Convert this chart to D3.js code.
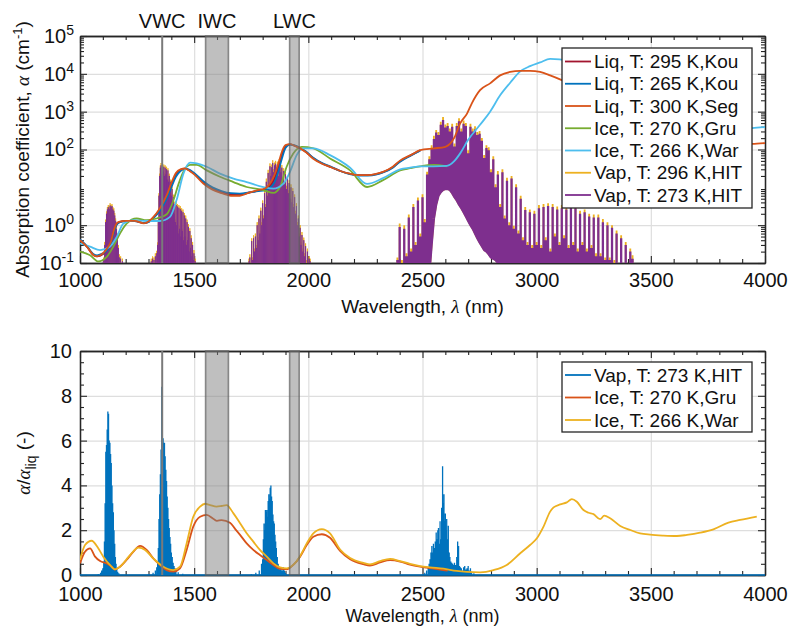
<!DOCTYPE html>
<html><head><meta charset="utf-8">
<script src="https://cdn.jsdelivr.net/npm/d3@7"></script>
<style>
body{margin:0;background:#fff}
svg{display:block;font-family:"Liberation Sans",Arial,Helvetica,sans-serif}
</style></head><body>
<svg id="chart" width="790" height="627"></svg>
<script>
// ---------------- DATA ----------------
const xTicks = [1000,1500,2000,2500,3000,3500,4000];
const yTopTicks = [0.1,1,100,1000,10000,100000];
const yTopExp = ["-1","0","2","3","4","5"];
const yBotTicks = [0,2,4,6,8,10];

const vwcLine = 1360;
const iwcBand = [1550,1650];
const lwcBand = [1918,1960];
const bandLabels = ["VWC","IWC","LWC"];
const bandLabelWl = [1360,1600,1939];

const legendTopNames = ["Liq, T: 295 K,Kou","Liq, T: 265 K,Kou","Liq, T: 300 K,Seg","Ice, T: 270 K,Gru","Ice, T: 266 K,War","Vap, T: 296 K,HIT","Vap, T: 273 K,HIT"];
const legendTopColors = ["#A2142F","#0072BD","#D95319","#77AC30","#4DBEEE","#EDB120","#7E2F8E"];
const legendBotNames = ["Vap, T: 273 K,HIT","Ice, T: 270 K,Gru","Ice, T: 266 K,War"];
const legendBotColors = ["#0072BD","#D95319","#EDB120"];

// liquid water, Kou (295 K and 265 K), cm^-1
const kouWl = [1000,1030,1060,1075,1100,1120,1135,1150,1160,1175,1200,1240,1280,1300,1320,1350,1380,1400,1420,1440,1460,1480,1500,1540,1580,1620,1660,1700,1740,1780,1810,1830,1850,1870,1885,1900,1920,1940,1964,1990,2020,2060,2100,2140,2180,2220,2260,2300,2330,2370,2400,2450,2490];
const liq295 = [0.41,0.27,0.16,0.15,0.17,0.23,0.34,0.75,1.05,1.22,1.29,1.29,1.13,1.22,1.55,2.6,5.6,11.5,21,29,31,28,23,13.5,9.3,7.5,6.5,6.4,7.2,8.2,8.8,10.5,16,36,75,120,136,126,108,86,60,43,34,27,23,21,21,22.5,25.5,34,48,71,95];
const liq265 = [0.42,0.28,0.17,0.16,0.18,0.22,0.32,0.7,1.0,1.2,1.28,1.28,1.15,1.2,1.5,2.4,5,10,19,27,31,29,24,14.5,10,8,7,6.8,7.3,7.9,8.3,9.5,13,28,60,110,135,128,110,88,62,44,35,27,22.5,20.5,20.5,22,25,33,47,70,93];
// liquid water, Seg (300 K)
const segWl = [1000,1030,1060,1075,1100,1120,1135,1150,1160,1170,1200,1240,1280,1300,1320,1350,1380,1400,1420,1440,1460,1480,1500,1540,1580,1620,1660,1700,1740,1780,1810,1830,1850,1870,1885,1900,1920,1940,1964,1990,2020,2060,2100,2140,2180,2220,2260,2300,2330,2370,2400,2450,2490,2550,2600,2620,2640,2665,2695,2716,2752,2796,2840,2884,2928,2971,3015,3059,3110,3200,3300,3400,3500,3600,3700,3800,3900,3943,4000];
const liqSeg = [0.40,0.27,0.16,0.15,0.18,0.25,0.36,0.8,1.1,1.23,1.30,1.30,1.12,1.25,1.6,2.8,6.2,13,24,30,31.5,27,22,12.6,8.7,7.0,6.0,6.0,7.2,8.5,9.3,12,20,45,90,130,138,125,107,85,58,42,34,27,23,21,21,23,26,35,50,72,96,107,118,140,210,490,890,1660,3700,5600,9100,11200,12000,12000,11200,9100,6800,3600,1300,500,330,190,120,115,130,140,148];
// ice, Gru (270 K)
const gruWl = [1000,1044,1080,1117,1146,1175,1204,1248,1292,1336,1380,1409,1431,1453,1482,1511,1555,1613,1672,1730,1803,1847,1876,1905,1934,1971,2022,2095,2183,2257,2327,2402,2446,2490,2548,2606];
const iceGru = [0.20,0.16,0.11,0.145,0.27,0.6,1.1,1.5,1.35,1.5,1.95,4.5,12,26,39,39,28,19,13.8,10.2,8.5,7.1,10.2,35,78,117,107,58,28,10.2,15.5,28,32,36,39,36];
// ice, War (266 K)
const warWl = [1000,1044,1088,1131,1161,1190,1234,1292,1350,1394,1423,1453,1482,1511,1555,1613,1672,1730,1803,1847,1891,1920,1949,1978,2022,2095,2183,2257,2327,2402,2446,2490,2548,2607,2640,2665,2700,2752,2796,2840,2884,2928,2971,3015,3059,3100,3150,3200,3300,3400,3500,3600,3700,3800,3900,3943,4000];
const iceWar = [0.33,0.27,0.22,0.27,0.49,1.1,1.35,1.29,1.29,1.66,4.6,23,45,43,35,23,17,13.8,10.2,9.3,12.6,26,71,107,107,71,33,12.3,17.5,30,33,36,36,37,50,79,180,450,1000,2700,5800,11600,16000,20000,25000,24000,20000,12000,3500,1200,600,330,250,260,310,365,390];

// water vapour line spectrum: line positions, peak values (273 K, 296 K) and trough floor, cm^-1
const vapWl = [
 1104,1108,1112,1116,1120,1124,1128,1132,1136,1140,
 1144,1148,1152,1156,1160,1164,1168,1172,1178,1186,
 1312,1318,1324,1330,1336,1340,1343,1346,1349,1352,
 1355,1358,1361,1364,1367,1370,1373,1376,1379,1382,
 1385,1388,1391,1394,1397,1400,1403,1406,1409,1412,
 1415,1418,1421,1424,1427,1430,1433,1436,1439,1442,
 1445,1448,1451,1454,1457,1460,1463,1466,1469,1472,
 1475,1478,1481,1484,1487,1490,1493,1496,1499,1502,
 1505,
 1740,1744,1748,1752,1756,1760,1764,1768,1772,1776,
 1780,1784,1788,1792,1796,1800,1804,1808,1812,1816,
 1820,1824,1828,1832,1836,1840,1844,1848,1852,1856,
 1860,1864,1868,1872,1876,1880,1884,1888,1892,1896,
 1900,1904,1908,1912,1916,1920,1924,1928,1932,1936,
 1940,1944,1948,1952,1956,1960,1964,1968,1972,1976,
 1980,1984,1988,1992,1996,2000,2004,2008,
 2390,2400,2410,2420,2430,2440,2450,2460,2470,2480,
 2490,2500,2510,2520,2530,2540,2550,2560,2570,2580,
 2590,2600,2610,2620,2630,2640,2650,2660,2670,2680,
 2690,2700,2710,2720,2730,2740,2750,2760,2770,2780,
 2790,2800,2810,2820,2830,2840,2850,2860,2870,2880,
 2890,2900,2910,2920,2930,2940,2950,2960,2970,2980,
 2990,3000,3010,3020,3030,3040,3050,3060,3070,3080,
 3090,3100,3110,3120,3130,3140,3150,3160,3170,3180,
 3190,3200,3210,3220,3230,3240,3250,3260,3270,3280,
 3290,3300,3310,3320,3330,3340,3350,3360,3370,3380,
 3390,3400,3410,3420];
const vap273 = [
 0.12,0.3,1.2,2.0,2.6,3.0,2.7,3.3,3.0,3.2,
 2.6,2.4,1.8,1.3,0.8,0.5,0.25,0.14,0.13,0.11,
 0.11,0.13,0.12,0.15,0.18,0.3,1.2,6,20,33,
 38,22,37,26,35,20,33,22,30,16,
 28,14,20,10,14,6,9,4,5.5,2,
 3.6,1.2,3.4,1.0,3.1,0.6,2.9,0.8,2.7,0.5,
 2.4,0.7,2.2,0.4,1.8,0.5,1.5,0.3,1.2,0.4,
 0.9,0.2,0.7,0.25,0.45,0.15,0.3,0.12,0.18,0.08,
 0.11,
 0.11,0.14,0.08,0.38,0.12,0.45,0.2,0.5,0.25,1.0,
 0.4,1.5,0.6,2.4,1.0,3.8,1.5,7,3,14,
 6,24,12,36,20,34,44,25,38,42,
 22,40,20,46,50,25,33,15,27,12,
 22,9,17,7,13,5,10,4,8,3,
 5.5,2,3.2,1,1.5,0.5,0.85,0.3,0.55,0.2,
 0.4,0.15,0.28,0.1,0.2,0.08,0.13,0.11,
 0.12,0.9,0.1,0.8,0.15,1.6,0.2,3.0,0.3,4.5,
 0.5,5.5,1.2,22,55,110,190,280,240,450,
 600,380,420,300,400,120,420,560,300,480,
 420,80,400,300,340,240,260,170,60,110,
 95,25,55,10,22,3,25,1.5,15,1.0,
 17,0.8,10,0.6,5,0.4,2.5,0.3,2.2,0.25,
 2.0,0.3,2.8,0.25,3.0,0.4,3.2,0.2,3.0,0.5,
 2.6,0.3,2.8,0.45,2.6,0.25,3.1,0.3,2.8,0.2,
 2.0,0.3,2.2,0.2,1.7,0.25,1.6,0.15,1.6,0.15,
 1.2,0.12,1.0,0.12,0.85,0.1,0.6,0.08,0.45,0.07,
 0.3,0.06,0.2,0.13];
const vap296 = [
 0.14,0.36,1.4,2.3,3.0,3.4,3.1,3.8,3.4,3.6,
 3.0,2.8,2.1,1.5,0.95,0.6,0.3,0.17,0.15,0.13,
 0.13,0.15,0.14,0.18,0.21,0.35,1.4,7,23,38,
 44,26,43,30,40,23,38,26,35,19,
 32,16,23,12,16,7,10.5,4.8,6.4,2.4,
 4.2,1.4,4.0,1.2,3.6,0.7,3.4,0.95,3.2,0.6,
 2.8,0.8,2.6,0.48,2.1,0.6,1.8,0.36,1.4,0.48,
 1.07,0.24,0.83,0.3,0.54,0.18,0.36,0.14,0.22,0.1,
 0.13,
 0.13,0.17,0.1,0.45,0.14,0.54,0.24,0.6,0.3,1.2,
 0.48,1.8,0.72,2.9,1.2,4.5,1.8,8.4,3.6,17,
 7.2,29,14,43,24,40,52,30,45,50,
 26,48,24,55,60,30,39,18,32,14,
 26,11,20,8.4,15.5,6,12,4.8,9.5,3.6,
 6.5,2.4,3.8,1.2,1.8,0.6,1.0,0.36,0.66,0.24,
 0.47,0.18,0.33,0.12,0.24,0.1,0.15,0.13,
 0.14,1.1,0.12,1.0,0.18,1.9,0.24,3.6,0.36,5.4,
 0.6,6.6,1.45,26,66,130,230,330,290,540,
 720,460,500,360,480,145,500,670,360,580,
 500,96,480,360,410,290,310,200,72,130,
 115,30,66,12,27,3.6,30,1.8,18,1.2,
 20,0.96,12,0.72,6,0.48,3.0,0.36,2.6,0.3,
 2.4,0.36,3.4,0.3,3.6,0.48,3.8,0.24,3.6,0.6,
 3.1,0.36,3.4,0.54,3.1,0.3,3.7,0.36,3.4,0.24,
 2.4,0.36,2.6,0.24,2.0,0.3,1.9,0.18,1.9,0.18,
 1.45,0.14,1.2,0.14,1.0,0.12,0.72,0.1,0.54,0.08,
 0.36,0.07,0.24,0.16];
const vapFloor = [
 0.05,0.05,0.05,0.05,0.05,0.05,0.05,0.05,0.05,0.05,
 0.05,0.05,0.05,0.05,0.05,0.05,0.05,0.05,0.05,0.05,
 0.05,0.05,0.05,0.05,0.05,0.05,0.05,0.05,0.05,0.05,
 0.05,0.05,0.05,0.05,0.05,0.05,0.05,0.05,0.05,0.05,
 0.05,0.05,0.05,0.05,0.05,0.05,0.05,0.05,0.05,0.05,
 0.05,0.05,0.05,0.05,0.05,0.05,0.05,0.05,0.05,0.05,
 0.05,0.05,0.05,0.05,0.05,0.05,0.05,0.05,0.05,0.05,
 0.05,0.05,0.05,0.05,0.05,0.05,0.05,0.05,0.05,0.05,
 0.05,
 0.05,0.05,0.05,0.05,0.05,0.05,0.05,0.05,0.05,0.05,
 0.05,0.05,0.05,0.05,0.05,0.05,0.05,0.05,0.05,0.05,
 0.05,0.05,0.05,0.05,0.05,0.05,0.05,0.05,0.05,0.05,
 0.05,0.05,0.05,0.05,0.05,0.05,0.05,0.05,0.05,0.05,
 0.05,0.05,0.05,0.05,0.05,0.05,0.05,0.05,0.05,0.05,
 0.05,0.05,0.05,0.05,0.05,0.05,0.05,0.05,0.05,0.05,
 0.05,0.05,0.05,0.05,0.05,0.05,0.05,0.05,
 0.05,0.05,0.05,0.05,0.05,0.05,0.05,0.05,0.05,0.05,
 0.05,0.05,0.05,0.05,0.05,0.3,1.5,3.5,6,7.5,
 8.5,9,9,8.5,7,5.5,4.5,3.5,2.8,2.2,
 1.7,1.3,1.0,0.8,0.6,0.45,0.35,0.28,0.22,0.2,
 0.17,0.14,0.13,0.12,0.1,0.05,0.05,0.05,0.05,0.05,
 0.05,0.05,0.05,0.05,0.05,0.05,0.05,0.05,0.05,0.05,
 0.05,0.05,0.05,0.05,0.05,0.05,0.05,0.05,0.05,0.05,
 0.05,0.05,0.05,0.05,0.05,0.05,0.05,0.05,0.05,0.05,
 0.05,0.05,0.05,0.05,0.05,0.05,0.05,0.05,0.05,0.05,
 0.05,0.05,0.05,0.05,0.05,0.05,0.05,0.05,0.05,0.05,
 0.05,0.05,0.05,0.05];

// ratio alpha/alpha_liq
const ratioVapWl = [
 1000,1050,1080,1090,1095,1100,1104,1107,1110,1113,
 1116,1119,1122,1125,1128,1131,1134,1137,1140,1143,
 1146,1149,1152,1155,1158,1161,1165,1170,1200,1280,
 1300,1320,1330,1336,1340,1343,1346,1349,1352,1355,
 1358,1361,1364,1367,1370,1373,1376,1379,1382,1385,
 1388,1391,1394,1397,1400,1404,1408,1412,1416,1420,
 1430,1450,1500,1700,1750,1770,1785,1795,1800,1803,
 1806,1809,1812,1815,1818,1821,1824,1827,1830,1833,
 1836,1839,1842,1845,1848,1851,1854,1857,1860,1864,
 1868,1872,1876,1880,1885,1890,1895,1900,1920,2000,
 2400,2480,2500,2510,2518,2525,2529,2533,2537,2541,
 2545,2548,2552,2556,2560,2563,2567,2570,2574,2577,
 2581,2584,2588,2591,2594,2597,2600,2603,2606,2610,
 2613,2617,2620,2624,2628,2632,2636,2640,2645,2650,
 2654,2658,2662,2666,2670,2675,2680,2685,2690,2695,
 2700,2705,2710,2715,2725,2750,2800,4000];
const ratioVap = [
 0,0.02,0.05,0.1,0.2,0.3,0.6,1.5,3.2,5.5,
 5.8,6.5,7.3,7.2,6.0,5.9,5.4,5.0,4.0,3.2,
 2.8,2.0,1.4,0.8,0.5,0.3,0.15,0.08,0.02,0.03,
 0.05,0.1,0.2,0.35,0.6,1.2,2.5,3.6,4.5,5.6,
 8.4,6.0,6.1,5.9,5.9,5.3,4.7,4.2,3.5,3.0,
 2.5,2.1,1.7,1.4,1.0,0.8,0.55,0.4,0.3,0.22,
 0.12,0.06,0.02,0.02,0.05,0.1,0.2,0.5,0.7,1.6,
 2.3,2.0,2.9,2.8,2.9,2.6,3.3,3.6,3.4,3.9,
 4.0,3.5,3.3,2.7,2.4,2.3,1.8,1.5,1.2,0.8,
 0.5,0.35,0.25,0.3,0.2,0.35,0.2,0.1,0.05,0.02,
 0.01,0.03,0.05,0.1,0.2,0.35,0.5,0.7,1.0,1.3,
 1.0,1.4,1.2,1.5,1.9,1.6,2.0,2.1,1.4,2.4,
 1.6,3.0,4.85,3.2,3.6,2.4,2.75,2.0,2.5,1.6,
 2.2,1.0,0.8,0.6,0.55,0.5,0.45,0.55,0.45,0.8,
 1.5,1.3,0.4,0.35,0.3,0.2,0.35,0.4,0.25,0.3,
 0.4,0.2,0.3,0.15,0.08,0.03,0.01,0];
const ratioGruWl = [1000,1022,1044,1066,1088,1117,1139,1153,1175,1204,1234,1263,1292,1321,1350,1380,1409,1438,1467,1496,1526,1555,1585,1600,1620,1657,1680,1701,1730,1759,1788,1818,1847,1876,1905,1934,1964,1993,2022,2059,2095,2139,2183,2241,2270,2314,2358,2402,2445,2489,2533,2591,2610];
const ratioGru = [0.52,1.04,1.19,0.82,0.62,0.52,0.37,0.24,0.37,0.67,1.04,1.30,1.12,0.74,0.45,0.22,0.15,0.30,1.12,2.16,2.6,2.68,2.5,2.42,2.45,2.33,2.05,1.79,1.41,1.12,0.89,0.67,0.45,0.27,0.25,0.45,0.82,1.34,1.71,1.82,1.66,1.08,0.70,0.48,0.42,0.56,0.66,0.60,0.46,0.37,0.31,0.22,0.2];
const ratioWarWl = [1000,1022,1051,1080,1102,1131,1153,1175,1219,1256,1285,1321,1365,1409,1438,1467,1496,1526,1548,1570,1598,1620,1642,1672,1701,1730,1759,1788,1818,1847,1876,1905,1934,1964,1993,2022,2059,2095,2139,2183,2241,2270,2314,2358,2402,2445,2489,2533,2592,2650,2694,2752,2811,2869,2928,2971,3001,3030,3059,3074,3103,3132,3154,3176,3205,3227,3249,3278,3296,3322,3366,3410,3453,3497,3555,3614,3658,3716,3774,3840,3891,3964];
const ratioWar = [0.67,1.34,1.53,1.19,0.82,0.45,0.25,0.37,0.89,1.22,1.12,0.74,0.37,0.22,0.37,1.41,2.6,3.05,3.18,3.12,3.05,3.08,3.12,2.75,2.31,1.86,1.49,1.12,0.82,0.52,0.34,0.30,0.45,0.85,1.41,1.86,2.05,1.86,1.14,0.76,0.54,0.47,0.62,0.72,0.62,0.50,0.40,0.34,0.28,0.18,0.14,0.12,0.22,0.45,0.97,1.34,1.64,2.16,2.83,3.02,3.15,3.24,3.39,3.27,2.90,2.78,2.72,2.49,2.65,2.53,2.19,2.01,1.86,1.80,1.76,1.74,1.79,1.89,2.04,2.34,2.46,2.61];

// ---------------- DRAWING ----------------
const SERIF = '"Liberation Serif","Times New Roman",serif';
const AX = '#262626', GRID = '#dedede';
const L = 80, R = 765;
const TOP = [36, 263], BOT = [351, 575];
const svg = d3.select('#chart');

const x = d3.scaleLinear().domain([1000, 4000]).range([L, R]);
const yT = d3.scaleLog().domain([0.1, 1e5]).range([TOP[1], TOP[0]]);
const yB = d3.scaleLinear().domain([0, 10]).range([BOT[1], BOT[0]]);

const defs = svg.append('defs');
defs.append('clipPath').attr('id', 'clipTop').append('rect')
  .attr('x', L).attr('y', TOP[0]).attr('width', R - L).attr('height', TOP[1] - TOP[0]);
defs.append('clipPath').attr('id', 'clipBot').append('rect')
  .attr('x', L).attr('y', BOT[0]).attr('width', R - L).attr('height', BOT[1] - BOT[0] + 1.5);

const xInner = xTicks.slice(1, -1);
const xMinor = x.ticks(30).filter(v => !xTicks.includes(v));

function grid(yScale, yGrid, yy) {
  const g = svg.append('g');
  g.append('g').attr('transform', `translate(0,${yy[1]})`)
    .call(d3.axisBottom(x).tickValues(xInner).tickSize(-(yy[1] - yy[0])).tickFormat(''))
    .call(s => { s.select('.domain').remove(); s.selectAll('line').attr('stroke', GRID).attr('stroke-width', 1.2); });
  g.append('g').attr('transform', `translate(${L},0)`)
    .call(d3.axisLeft(yScale).tickValues(yGrid).tickSize(-(R - L)).tickFormat(''))
    .call(s => { s.select('.domain').remove(); s.selectAll('line').attr('stroke', GRID).attr('stroke-width', 1.2); });
}

function styleAxis(s) {
  s.select('.domain').attr('stroke', AX).attr('stroke-width', 1.3);
  s.selectAll('.tick line').attr('stroke', AX).attr('stroke-width', 1.1);
  s.selectAll('text').attr('fill', '#111').attr('font-size', 20)
    .attr('font-family', '"Liberation Sans",Arial,Helvetica,sans-serif');
}

function axes(yScale, yMajor, yMinor, yy, xPad, yPad, expLabels) {
  const g = svg.append('g');
  g.append('g').attr('transform', `translate(0,${yy[1]})`)
    .call(d3.axisBottom(x).tickValues(xMinor).tickSize(-4).tickSizeOuter(0).tickFormat('')).call(styleAxis);
  g.append('g').attr('transform', `translate(0,${yy[1]})`)
    .call(d3.axisBottom(x).tickValues(xTicks).tickSize(-7).tickSizeOuter(0).tickPadding(xPad).tickFormat(d3.format('d'))).call(styleAxis);
  g.append('g').attr('transform', `translate(0,${yy[0]})`)
    .call(d3.axisTop(x).tickValues(xMinor).tickSize(-4).tickSizeOuter(0).tickFormat('')).call(styleAxis);
  g.append('g').attr('transform', `translate(0,${yy[0]})`)
    .call(d3.axisTop(x).tickValues(xTicks).tickSize(-7).tickSizeOuter(0).tickFormat('')).call(styleAxis);
  g.append('g').attr('transform', `translate(${L},0)`)
    .call(d3.axisLeft(yScale).tickValues(yMinor).tickSize(-4).tickSizeOuter(0).tickFormat('')).call(styleAxis);
  const left = g.append('g').attr('transform', `translate(${L},0)`)
    .call(d3.axisLeft(yScale).tickValues(yMajor).tickSize(-7).tickSizeOuter(0).tickPadding(yPad)
      .tickFormat(expLabels ? (() => '') : d3.format('d'))).call(styleAxis);
  if (expLabels) {
    left.selectAll('.tick text').each(function (d, i) {
      const t = d3.select(this);
      t.append('tspan').text('10');
      t.append('tspan').attr('dy', '-8').attr('font-size', 14).text(expLabels[i]);
    });
  }
  g.append('g').attr('transform', `translate(${R},0)`)
    .call(d3.axisRight(yScale).tickValues(yMinor).tickSize(-4).tickSizeOuter(0).tickFormat('')).call(styleAxis);
  g.append('g').attr('transform', `translate(${R},0)`)
    .call(d3.axisRight(yScale).tickValues(yMajor).tickSize(-7).tickSizeOuter(0).tickFormat('')).call(styleAxis);
}

// spectrum drawn as a line through each line centre: trough -> peak -> trough
function stemPath(wl, peak, floorFn, ys, idx) {
  let d = '';
  idx.forEach(i => {
    const X = x(wl[i]), F = ys(floorFn(i)), P = ys(peak[i]);
    if (X === undefined || F === undefined || P === undefined) return;
    d += (d === '' ? 'M' : 'L') + X.toFixed(2) + ',' + F.toFixed(2) + 'L' + X.toFixed(2) + ',' + P.toFixed(2) + 'L' + X.toFixed(2) + ',' + F.toFixed(2);
  });
  return d;
}
function stemGroups(wl) {
  const groups = []; let cur = [0];
  for (let i = 1; i < wl.length; i++) {
    if (wl[i] - wl[i - 1] > 50) { groups.push(cur); cur = []; }
    cur.push(i);
  }
  groups.push(cur);
  return groups;
}
function spectrum(g, wl, peak, floorFn, ys, color, factor) {
  stemGroups(wl).forEach(idx => {
    const steps = idx.slice(1).map((k, j) => x(wl[k]) - x(wl[idx[j]])).sort((a, b) => a - b);
    const sp = steps.length ? steps[Math.floor(steps.length / 2)] : 1;
    g.append('path').attr('d', stemPath(wl, peak, floorFn, ys, idx))
      .attr('fill', 'none').attr('stroke', color).attr('stroke-width', Math.max(0.9, sp * factor))
      .attr('stroke-linejoin', 'bevel');
  });
}

function curve(g, wl, vals, ys, color, w) {
  g.append('path')
    .attr('d', d3.line().x((d, i) => x(wl[i])).y(d => ys(d)).curve(d3.curveMonotoneX)(vals))
    .attr('fill', 'none').attr('stroke', color).attr('stroke-width', w).attr('stroke-linejoin', 'round');
}

function bands(yy) {
  const g = svg.append('g');
  [iwcBand, lwcBand].forEach(b => {
    g.append('rect').attr('x', x(b[0])).attr('y', yy[0]).attr('width', x(b[1]) - x(b[0])).attr('height', yy[1] - yy[0])
      .attr('fill', '#808080').attr('fill-opacity', 0.5).attr('stroke', '#606060').attr('stroke-opacity', 0.7).attr('stroke-width', 1.6);
  });
  g.append('line').attr('x1', x(vwcLine)).attr('x2', x(vwcLine)).attr('y1', yy[0]).attr('y2', yy[1])
    .attr('stroke', '#7a7a7a').attr('stroke-width', 2);
}

function legend(names, colors, box, y0, dy) {
  const g = svg.append('g');
  g.append('rect').attr('x', box[0]).attr('y', box[1]).attr('width', box[2]).attr('height', box[3])
    .attr('fill', '#fff').attr('stroke', AX).attr('stroke-width', 1.3);
  names.forEach((n, i) => {
    const yy = y0 + i * dy;
    g.append('line').attr('x1', 565).attr('x2', 591).attr('y1', yy).attr('y2', yy)
      .attr('stroke', colors[i]).attr('stroke-width', 1.8);
    g.append('text').attr('x', 594).attr('y', yy).attr('dy', '0.35em').attr('font-size', 19).attr('fill', '#111').text(n);
  });
}

// ---- top panel ----
grid(yT, yTopTicks, TOP);
const yTopMinor = yT.ticks().filter(v => Math.abs(Math.log10(v) - Math.round(Math.log10(v))) > 1e-6);
axes(yT, yTopTicks, yTopMinor, TOP, 10, 6, yTopExp);
const dT = svg.append('g').attr('clip-path', 'url(#clipTop)');
spectrum(dT, vapWl, vap296, i => vapFloor[i], yT, legendTopColors[5], 0.8);
spectrum(dT, vapWl, vap273, i => vapFloor[i], yT, legendTopColors[6], 1.0);
curve(dT, kouWl, liq295, yT, legendTopColors[0], 1.8);
curve(dT, kouWl, liq265, yT, legendTopColors[1], 1.8);
curve(dT, gruWl, iceGru, yT, legendTopColors[3], 1.8);
curve(dT, warWl, iceWar, yT, legendTopColors[4], 1.8);
curve(dT, segWl, liqSeg, yT, legendTopColors[2], 1.8);
bands(TOP);
legend(legendTopNames, legendTopColors, [562, 48, 190, 160], 61.5, 22.25);

bandLabels.forEach((t, i) => {
  svg.append('text').attr('x', x(bandLabelWl[i])).attr('y', 28).attr('text-anchor', 'middle')
    .attr('font-size', 20).attr('fill', '#111').text(t);
});

const xl1 = svg.append('text').attr('x', (L + R) / 2).attr('y', 313).attr('text-anchor', 'middle').attr('font-size', 19).attr('fill', '#111');
xl1.append('tspan').text('Wavelength, ');
xl1.append('tspan').attr('font-family', SERIF).attr('font-style', 'italic').text('λ');
xl1.append('tspan').text(' (nm)');

const yl1 = svg.append('text').attr('transform', `translate(29,${(TOP[0] + TOP[1]) / 2}) rotate(-90)`)
  .attr('text-anchor', 'middle').attr('font-size', 19).attr('fill', '#111');
yl1.append('tspan').text('Absorption coefficient, ');
yl1.append('tspan').attr('font-family', SERIF).attr('font-style', 'italic').text('α');
yl1.append('tspan').text(' (cm');
yl1.append('tspan').attr('dy', -7).attr('font-size', 13).text('-1');
yl1.append('tspan').attr('dy', 7).text(')');

// ---- bottom panel ----
grid(yB, yBotTicks, BOT);
axes(yB, yBotTicks, yB.ticks(20).filter(v => !yBotTicks.includes(v)), BOT, 12, 8, null);
const dB = svg.append('g').attr('clip-path', 'url(#clipBot)');
dB.append('path').attr('d', stemPath(ratioVapWl, ratioVap, () => 0, yB, ratioVapWl.map((d, i) => i)))
  .attr('fill', 'none').attr('stroke', legendBotColors[0]).attr('stroke-width', 1.3);
curve(dB, ratioGruWl, ratioGru, yB, legendBotColors[1], 1.8);
curve(dB, ratioWarWl, ratioWar, yB, legendBotColors[2], 1.8);
bands(BOT);
legend(legendBotNames, legendBotColors, [562, 362, 190, 70], 375, 22.5);

const xl2 = svg.append('text').attr('x', (L + R) / 2).attr('y', 622).attr('text-anchor', 'middle').attr('font-size', 18).attr('fill', '#111');
xl2.append('tspan').text('Wavelength, ');
xl2.append('tspan').attr('font-family', SERIF).attr('font-style', 'italic').text('λ');
xl2.append('tspan').text(' (nm)');

const yl2 = svg.append('text').attr('transform', `translate(30,${(BOT[0] + BOT[1]) / 2}) rotate(-90)`)
  .attr('text-anchor', 'middle').attr('font-size', 19).attr('fill', '#111');
yl2.append('tspan').attr('font-family', SERIF).attr('font-style', 'italic').text('α');
yl2.append('tspan').text('/');
yl2.append('tspan').attr('font-family', SERIF).attr('font-style', 'italic').text('α');
yl2.append('tspan').attr('dy', 6).attr('font-size', 14).text('liq');
yl2.append('tspan').attr('dy', -6).text(' (-)');
</script>
</body></html>
